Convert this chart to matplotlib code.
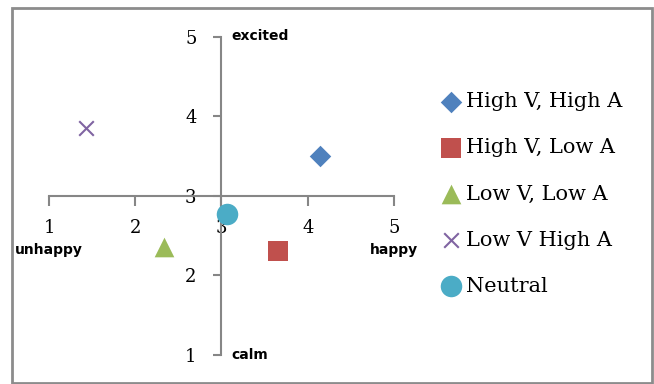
import matplotlib.pyplot as plt
from matplotlib.patches import Rectangle

# valence (x) / arousal (y) per group
names = ['High V, High A', 'High V, Low A', 'Low V, Low A', 'Low V High A', 'Neutral']
valence = [4.14, 3.66, 2.33, 1.43, 3.06]
arousal = [3.50, 2.30, 2.36, 3.85, 2.77]
kleuren = ['#4F81BD', '#C0504D', '#9BBB59', '#8064A2', '#4BACC6']
markers = ['D', 's', '^', 'x', 'o']
sizes = [120, 220, 200, 110, 240]
ticks = [1, 2, 3, 4, 5]

W, H = 654, 384
fig = plt.figure(figsize=(W / 100, H / 100), dpi=100)
ax = fig.add_axes([49 / W, (H - 355) / H, 345 / W, 318.5 / H])

for i in range(len(names)):
    ax.scatter(valence[i], arousal[i], marker=markers[i], s=sizes[i],
               color=kleuren[i], label=names[i], linewidths=1.5 if markers[i] == 'x' else 0,
               zorder=3, clip_on=False)

ax.set_xlim(1, 5)
ax.set_ylim(1, 5)
ax.set_xticks(ticks)
ax.set_yticks(ticks)

# axes cross in the middle (3,3)
ax.spines['left'].set_position(('data', 3))
ax.spines['bottom'].set_position(('data', 3))
ax.spines['top'].set_visible(False)
ax.spines['right'].set_visible(False)
for s in ['left', 'bottom']:
    ax.spines[s].set_color('#868686')
    ax.spines[s].set_linewidth(1.5)
ax.tick_params(axis='x', direction='out', length=7, width=1.5, color='#868686', pad=10)
ax.tick_params(axis='y', direction='out', length=6, width=1.5, color='#868686', pad=12)
for lab in ax.get_xticklabels() + ax.get_yticklabels():
    lab.set_family('DejaVu Serif')
    lab.set_fontsize(13)

woord = dict(fontsize=10, fontweight='bold', color='black')
ax.annotate('excited', (3, 5), xytext=(7, 0), textcoords='offset points',
            ha='left', va='center', **woord)
ax.annotate('calm', (3, 1), xytext=(7, 0), textcoords='offset points',
            ha='left', va='center', **woord)
ax.text(1, 2.32, 'unhappy', ha='center', va='center', **woord)
ax.text(5, 2.32, 'happy', ha='center', va='center', **woord)

leg = ax.legend(loc='upper left', bbox_to_anchor=(430 / W, 1 - 84 / H),
                bbox_transform=fig.transFigure, frameon=False,
                prop={'family': 'DejaVu Serif', 'size': 15},
                handletextpad=0.15, handlelength=1.2, labelspacing=1.3,
                borderaxespad=0, scatterpoints=1)

# grey frame around the whole chart
fig.patches.append(Rectangle((12 / W, 1 / H), 640 / W, 375 / H, transform=fig.transFigure,
                             fill=False, edgecolor='#8c8c8c', linewidth=2))

fig.savefig('out.png', dpi=100)
